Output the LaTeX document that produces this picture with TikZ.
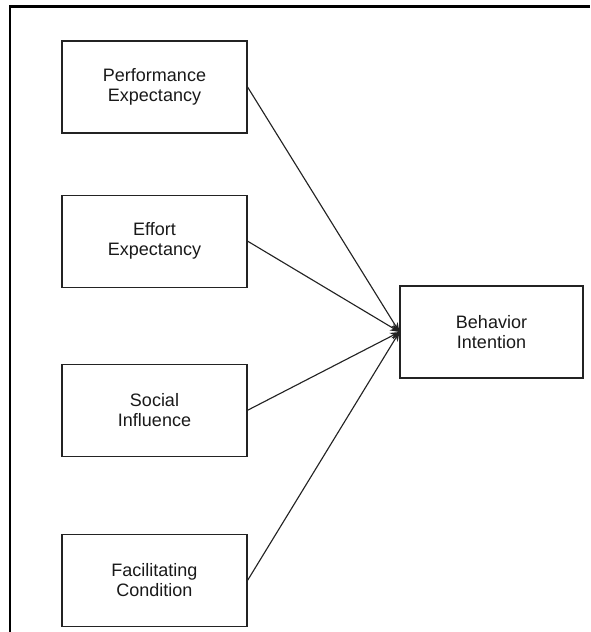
\documentclass[tikz,border=0pt]{standalone}
\usepackage{fontspec}
\setmainfont{Liberation Sans}
\usepackage{tikz}
\usetikzlibrary{arrows,arrows.meta,shapes,positioning}
\usepackage{xcolor}
\definecolor{dfline}{RGB}{35,35,35}
\definecolor{dftext}{RGB}{25,25,25}
\tikzstyle{arrow} = [line width=0.85pt,->,>={Stealth[length=7pt,width=5.5pt]},color=dfline]
\tikzstyle{factorbox} = [rectangle, minimum width=138.75pt, minimum height=69pt, align=center, draw=dfline, line width=0.85pt, text=dftext, font=\fontsize{13.5}{15}\selectfont]

\begin{document}
\begin{tikzpicture}[x=0.75pt,y=-0.75pt]
\useasboundingbox (0,0) rectangle (590,632);
% Frame
\draw[line width=1.8pt] (10,632) -- (10,6.5) -- (590,6.5);
% Factors
\node[factorbox] (perf) at (154.5,87) {Performance\\Expectancy};
\node[factorbox, below=45.75pt of perf] (effort) {Effort\\Expectancy};
\node[factorbox, below=57pt of effort] (social) {Social\\Influence};
\node[factorbox, below=57.75pt of social] (facil) {Facilitating\\Condition};
% Outcome
\node[factorbox, minimum width=137.25pt] (intent) at (491.5,332) {Behavior\\Intention};
% Paths
\draw[arrow] (perf.east) -- (intent.west);
\draw[arrow] (effort.east) -- (intent.west);
\draw[arrow] (social.east) -- (intent.west);
\draw[arrow] (facil.east) -- (intent.west);
\end{tikzpicture}
\end{document}
